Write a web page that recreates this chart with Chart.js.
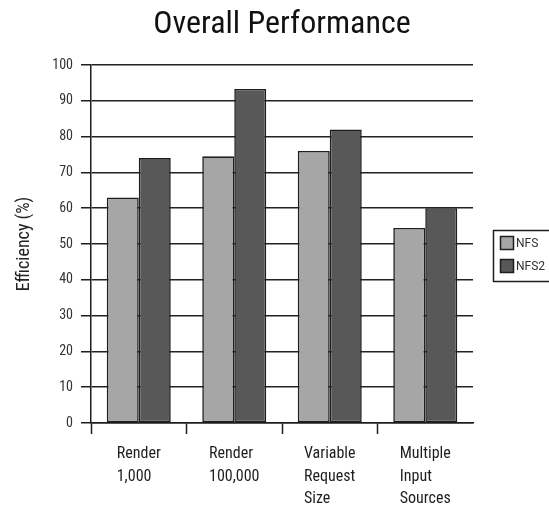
<!DOCTYPE html>
<html>
<head>
<meta charset="utf-8">
<script src="https://cdn.jsdelivr.net/npm/chart.js@4.4.1/dist/chart.umd.min.js"></script>
<style>
  html, body { margin: 0; padding: 0; background: #ffffff; }
  #wrap { width: 549px; height: 506px; }
</style>
</head>
<body>
<div id="wrap"><canvas id="c" width="549" height="506"></canvas></div>
<script>
// Categories (multi-line labels) and the two efficiency series, in percent
const chartTitle = "Overall Performance";
const categories = [
  ["Render", "1,000"],
  ["Render", "100,000"],
  ["Variable", "Request", "Size"],
  ["Multiple", "Input", "Sources"]
];
const seriesNames = ["NFS", "NFS2"];
const nfsValues  = [63, 74.5, 76, 54.5];
const nfs2Values = [74, 93.3, 82, 60];
const yTickValues = [0, 10, 20, 30, 40, 50, 60, 70, 80, 90, 100];

const FONT = '"Roboto Condensed", "Liberation Sans", Arial, sans-serif';
const INK = '#1e1e1e';

// Title centred over the plotting area
const plotTitle = {
  id: 'plotTitle',
  afterDraw(chart) {
    const a = chart.chartArea;
    const ctx = chart.ctx;
    ctx.save();
    ctx.font = '32px ' + FONT;
    ctx.fillStyle = '#111';
    ctx.textAlign = 'center';
    ctx.textBaseline = 'alphabetic';
    ctx.fillText(chartTitle, (a.left + a.right) / 2, 33);
    ctx.restore();
  }
};

// Category labels: each block is centred on its category, lines left-aligned
const categoryLabels = {
  id: 'categoryLabels',
  afterDraw(chart) {
    const xs = chart.scales.x;
    const ctx = chart.ctx;
    ctx.save();
    ctx.font = '16px ' + FONT;
    ctx.fillStyle = INK;
    ctx.textAlign = 'left';
    ctx.textBaseline = 'middle';
    chart.data.labels.forEach((lines, i) => {
      const cx = xs.getPixelForValue(i);
      const w = Math.max(...lines.map(l => ctx.measureText(l).width));
      lines.forEach((line, j) => {
        ctx.fillText(line, cx - w / 2, xs.top + 31 + j * 22.5);
      });
    });
    ctx.restore();
  }
};

// Boxed legend at the right edge
const boxedLegend = {
  id: 'boxedLegend',
  afterDraw(chart) {
    const ctx = chart.ctx;
    const left = 493, top = 230, width = 70, height = 51;
    ctx.save();
    ctx.strokeStyle = INK;
    ctx.lineWidth = 1.5;
    ctx.strokeRect(left + 0.5, top + 0.5, width, height);
    ctx.font = '12px Roboto, ' + FONT;
    ctx.textBaseline = 'middle';
    ctx.textAlign = 'left';
    chart.data.datasets.forEach((ds, i) => {
      const y = top + 6 + i * 23;
      ctx.fillStyle = ds.backgroundColor;
      ctx.fillRect(left + 7, y, 14, 14);
      ctx.strokeStyle = INK;
      ctx.lineWidth = 1.5;
      ctx.strokeRect(left + 7.5, y + 0.5, 13, 13);
      ctx.fillStyle = '#333';
      ctx.fillText(ds.label, left + 23, y + 7.5);
    });
    ctx.restore();
  }
};

new Chart(document.getElementById('c'), {
  type: 'bar',
  data: {
    labels: categories,
    datasets: [
      {
        label: seriesNames[0],
        data: nfsValues,
        backgroundColor: '#a6a6a6',
        borderColor: INK,
        borderWidth: 1.6,
        borderSkipped: false,
        categoryPercentage: 0.67,
        barPercentage: 1.0
      },
      {
        label: seriesNames[1],
        data: nfs2Values,
        backgroundColor: '#585858',
        borderColor: INK,
        borderWidth: 1.6,
        borderSkipped: false,
        categoryPercentage: 0.67,
        barPercentage: 1.0
      }
    ]
  },
  options: {
    responsive: false,
    devicePixelRatio: 1,
    animation: false,
    layout: { padding: { left: 0, right: 76, top: 65, bottom: 0 } },
    plugins: {
      legend: { display: false },
      tooltip: { enabled: false },
      title: { display: false }
    },
    scales: {
      x: {
        type: 'category',
        offset: true,
        afterFit(scale) { scale.height = 83; },
        grid: {
          offset: true,
          drawOnChartArea: false,
          drawTicks: true,
          tickLength: 11,
          tickWidth: 1.5,
          tickColor: (ctx) => (ctx.type === 'tick' ? INK : 'transparent')
        },
        border: { display: true, color: INK, width: 1.5 },
        ticks: { color: 'transparent', font: { family: FONT, size: 16 } }
      },
      y: {
        min: yTickValues[0],
        max: yTickValues[yTickValues.length - 1],
        afterFit(scale) { scale.width = 91; },
        afterBuildTicks(scale) { scale.ticks = yTickValues.map(v => ({ value: v })); },
        grid: {
          color: '#222',
          lineWidth: 1.5,
          drawTicks: true,
          tickLength: 10,
          tickColor: INK
        },
        border: { display: true, color: INK, width: 1.5 },
        ticks: {
          color: '#333',
          padding: 8,
          font: { family: FONT, size: 14 }
        },
        title: {
          display: true,
          text: 'Efficiency (%)',
          color: '#222',
          font: { family: FONT, size: 18, weight: 'normal' },
          padding: { top: 14, bottom: 0 }
        }
      }
    }
  },
  plugins: [plotTitle, categoryLabels, boxedLegend]
});
</script>
</body>
</html>
